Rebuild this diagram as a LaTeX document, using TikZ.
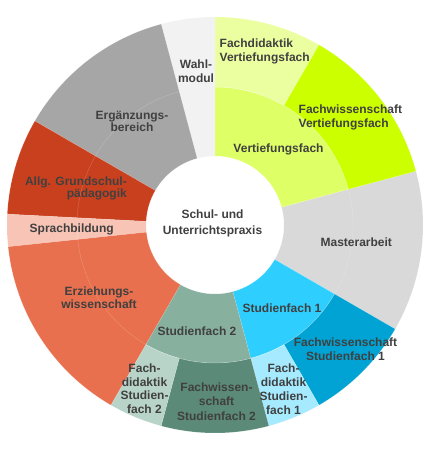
\documentclass[tikz,border=0pt]{standalone}
\usepackage{fontspec}
\setmainfont{Liberation Sans}
\definecolor{txt}{HTML}{404040}
\definecolor{cWahl}{HTML}{F2F2F2}
\definecolor{cErg}{HTML}{A6A6A6}
\definecolor{cAllg}{HTML}{C9401E}
\definecolor{cSprach}{HTML}{F7C4B5}
\definecolor{cErz}{HTML}{E8704E}
\definecolor{cVf}{HTML}{DFFF66}
\definecolor{cFdVf}{HTML}{EBFFA0}
\definecolor{cFwVf}{HTML}{CCFF00}
\definecolor{cMaster}{HTML}{D9D9D9}
\definecolor{cSfa}{HTML}{2ECFFF}
\definecolor{cFwSfa}{HTML}{00A3D4}
\definecolor{cFdSfa}{HTML}{A6EAFF}
\definecolor{cSfb}{HTML}{87B09F}
\definecolor{cFwSfb}{HTML}{5B8A78}
\definecolor{cFdSfb}{HTML}{B8D3C8}
\newcommand{\ringseg}[5]{\fill[fill=#5,draw=white,draw opacity=.2,line width=.5pt] (#1:#3) arc (#1:#2:#3) -- (#2:#4) arc (#2:#1:#4) -- cycle;}
\newcommand\rin{69}
\newcommand\rmid{138}
\newcommand\rout{208}

\begin{document}
\begin{tikzpicture}[x=1pt,y=1pt,
    lbl/.style={font=\bfseries\fontsize{12}{#1}\selectfont,text=txt,inner sep=0pt,align=center},
    lbl/.default=14.3]
  \fill[white] (0,0) rectangle (432,450);
  \useasboundingbox (0,0) rectangle (432,450);
  \begin{scope}[shift={(215,225)}]
    % both rings
    \foreach \a/\b/\c in {90/105/cWahl,105/150/cErg,150/177/cAllg,177/186/cSprach,186/240/cErz,-30/15/cMaster}{
      \ringseg{\a}{\b}{\rin}{\rout}{\c}}
    % inner ring
    \foreach \a/\b/\c in {15/90/cVf,-75/-30/cSfa,-120/-75/cSfb}{
      \ringseg{\a}{\b}{\rin}{\rmid}{\c}}
    % outer ring
    \foreach \a/\b/\c in {60/90/cFdVf,15/60/cFwVf,-60/-30/cFwSfa,-75/-60/cFdSfa,-105/-75/cFwSfb,-120/-105/cFdSfb}{
      \ringseg{\a}{\b}{\rmid}{\rout}{\c}}
    \draw[white,opacity=.2,line width=.5pt] (0,0) circle (\rmid);
%    \draw[white] (0,0) circle (\rin);
  \end{scope}
  \node[lbl=15.5,anchor=north] (praxis) at (212.5,240.3) {Schul- und\\Unterrichtspraxis};
  \node[lbl,anchor=north] (wahl) at (196,390.5) {Wahl-\\modul};
  \node[lbl=13.7,anchor=north west,align=left] (fdvf) at (219.5,411.5) {Fachdidaktik\\Vertiefungsfach};
  \node[lbl,anchor=north west,align=left] (fwvf) at (298.5,345.5) {Fachwissenschaft\\Vertiefungsfach};
  \node[lbl,anchor=north] (vf) at (278.5,306.1) {Vertiefungsfach};
  \node[lbl,anchor=north] (ma) at (356.3,212.1) {Masterarbeit};
  \node[lbl,anchor=north] (sfa) at (282,146.5) {Studienfach 1};
  \node[lbl=14,anchor=north] (fwsfa) at (345.5,112.1) {Fachwissenschaft\\Studienfach 1};
  \node[lbl=14.2,anchor=north] (fdsfa) at (283.5,86.5) {Fach-\\didaktik\\Studien-\\fach 1};
  \node[lbl,anchor=north] (sfb) at (197,123.1) {Studienfach 2};
  \node[lbl=14.2,anchor=north] (fwsfb) at (216.5,67.1) {Fachwissen-\\schaft\\Studienfach 2};
  \node[lbl=13.5,anchor=north] (fdsfb) at (144.5,86.1) {Fach-\\didaktik\\Studien-\\fach 2};
  \node[lbl=13.3,anchor=north] (erz) at (99,163.8) {Erziehungs-\\wissenschaft};
  \node[lbl,anchor=north] (sprach) at (71.7,226.5) {Sprachbildung};
  \node[lbl=12,anchor=north east,align=right] (allg) at (127,273.1) {Allg. Grundschul-\\pädagogik};
  \node[lbl=11.7,anchor=north] (erg) at (132,338.8) {Ergänzungs-\\bereich};
\end{tikzpicture}
\end{document}
